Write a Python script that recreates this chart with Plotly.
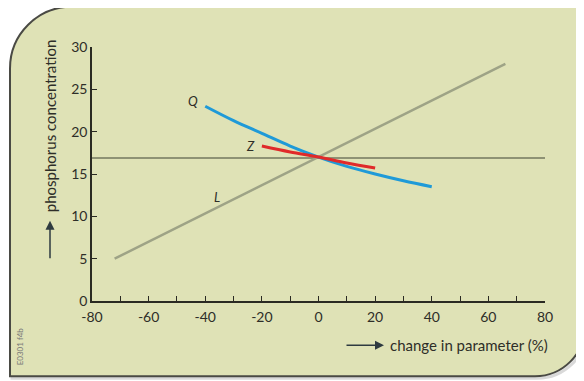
import plotly.graph_objects as go

# ---- data ----
x_q = [-40, -30, -20, -10, 0, 10, 20, 30, 40]
y_q = [23.0, 21.3, 19.8, 18.3, 17.0, 15.9, 15.0, 14.2, 13.5]
x_z = [-20, -10, 0, 10, 20]
y_z = [18.3, 17.6, 17.0, 16.3, 15.7]
x_l = [-72, 66]
y_l = [5, 28]
x_h = [-80, 80]
y_h = [16.9, 16.9]
x_ticks = [-80, -60, -40, -20, 0, 20, 40, 60, 80]
x_tick_labels = ["-80", "-60", "-40", "-20", "0", "20", "40", "60", "80"]
y_ticks = [0, 5, 10, 15, 20, 25, 30]

W, H = 584, 381
OFF = 8  # page body margin
# plot area in screen pixels
SX0, SX1, SY0, SY1 = 92, 545, 46.5, 301.5
L = SX0 - OFF
R = W - (SX1 - OFF)
T = SY0 - OFF
B = H - (SY1 - OFF)
PW, PH = SX1 - SX0, SY1 - SY0


def px(X):
    return (X - SX0) / PW


def py(Y):
    return (SY1 - Y) / PH


def panel_path(x0, y0, x1, y1, r1, r2):
    k = 0.5523
    pts = []
    pts.append(f"M {px(x0)},{py(y0 + r1)}")
    pts.append(f"C {px(x0)},{py(y0 + r1 - k * r1)} {px(x0 + r1 - k * r1)},{py(y0)} {px(x0 + r1)},{py(y0)}")
    pts.append(f"L {px(x1)},{py(y0)}")
    pts.append(f"L {px(x1)},{py(y1 - r2)}")
    pts.append(f"C {px(x1)},{py(y1 - r2 + k * r2)} {px(x1 - r2 + k * r2)},{py(y1)} {px(x1 - r2)},{py(y1)}")
    pts.append(f"L {px(x0)},{py(y1)} Z")
    return " ".join(pts)


FONT = "Lato"
TXT = "#2e2e28"

fig = go.Figure()
fig.add_trace(go.Scatter(x=x_h, y=y_h, mode="lines", line=dict(color="#8e9274", width=2), hoverinfo="skip"))
fig.add_trace(go.Scatter(x=x_l, y=y_l, mode="lines", line=dict(color="#9ea386", width=2.5), hoverinfo="skip"))
fig.add_trace(go.Scatter(x=x_q, y=y_q, mode="lines", line=dict(color="#1f9ad8", width=3, shape="spline"), hoverinfo="skip"))
fig.add_trace(go.Scatter(x=x_z, y=y_z, mode="lines", line=dict(color="#e02a2a", width=3, shape="spline"), hoverinfo="skip"))

shapes = [
    # shadow
    dict(type="path", xref="paper", yref="paper", path=panel_path(12, 8, 587, 379, 62, 50),
         line=dict(color="rgba(0,0,0,0.15)", width=3), fillcolor="rgba(0,0,0,0)", layer="below"),
    dict(type="path", xref="paper", yref="paper", path=panel_path(10, 6, 585, 377, 62, 50),
         line=dict(color="#4a4a44", width=2), fillcolor="#dfe2b6", layer="below"),
]

annotations = [
    dict(x=-44.5, y=23.6, text="<i>Q</i>", showarrow=False, font=dict(family=FONT, size=13, color=TXT)),
    dict(x=-24, y=18.3, text="<i>Z</i>", showarrow=False, font=dict(family=FONT, size=13, color=TXT)),
    dict(x=-36, y=12.3, text="<i>L</i>", showarrow=False, font=dict(family=FONT, size=13, color=TXT)),
    # y title
    dict(xref="paper", yref="paper", x=px(50), y=py(126), text="phosphorus concentration", textangle=-90,
         xanchor="center", yanchor="middle",
         showarrow=False, font=dict(family=FONT, size=15, color=TXT)),
    dict(xref="paper", yref="paper", x=px(50), y=py(221), ax=0, ay=39,
         text="", showarrow=True, arrowhead=2, arrowsize=1.2, arrowwidth=1.5, arrowcolor="#2e3a40"),
    # x title
    dict(xref="paper", yref="paper", x=px(388), y=py(346), text="change in parameter (%)",
         xanchor="left", yanchor="middle",
         showarrow=False, font=dict(family=FONT, size=15, color=TXT)),
    dict(xref="paper", yref="paper", x=px(384), y=py(346), ax=-39, ay=0,
         text="", showarrow=True, arrowhead=2, arrowsize=1.2, arrowwidth=1.5, arrowcolor="#2e3a40"),
    # code
    dict(xref="paper", yref="paper", x=px(20), y=py(347), text="E0301 f4b", textangle=-90,
         xanchor="center", yanchor="middle",
         showarrow=False, font=dict(family=FONT, size=8, color="#777")),
]

fig.update_layout(
    width=W, height=H,
    margin=dict(l=L, r=R, t=T, b=B),
    paper_bgcolor="white",
    plot_bgcolor="rgba(0,0,0,0)",
    showlegend=False,
    shapes=shapes,
    annotations=annotations,
    font=dict(family=FONT, size=14, color=TXT),
)
fig.update_xaxes(range=[-80, 80], tickvals=x_ticks, ticktext=x_tick_labels, showgrid=False, zeroline=False,
                 showline=True, linecolor="#2a2a22", linewidth=1.5,
                 ticks="inside", ticklen=5, tickwidth=1, tickcolor="#2a2a22",
                 minor=dict(ticks="inside", dtick=10, ticklen=5, tickwidth=1, tickcolor="#2a2a22"),
                 ticklabelstandoff=2,
                 tickfont=dict(family=FONT, size=14, color=TXT), fixedrange=True)
fig.update_yaxes(range=[0, 30], tickvals=y_ticks, showgrid=False, zeroline=False,
                 showline=True, linecolor="#2a2a22", linewidth=1.5,
                 ticks="inside", ticklen=5, tickwidth=1, tickcolor="#2a2a22",
                 tickfont=dict(family=FONT, size=14, color=TXT), fixedrange=True)

fig.write_html("out.html")
